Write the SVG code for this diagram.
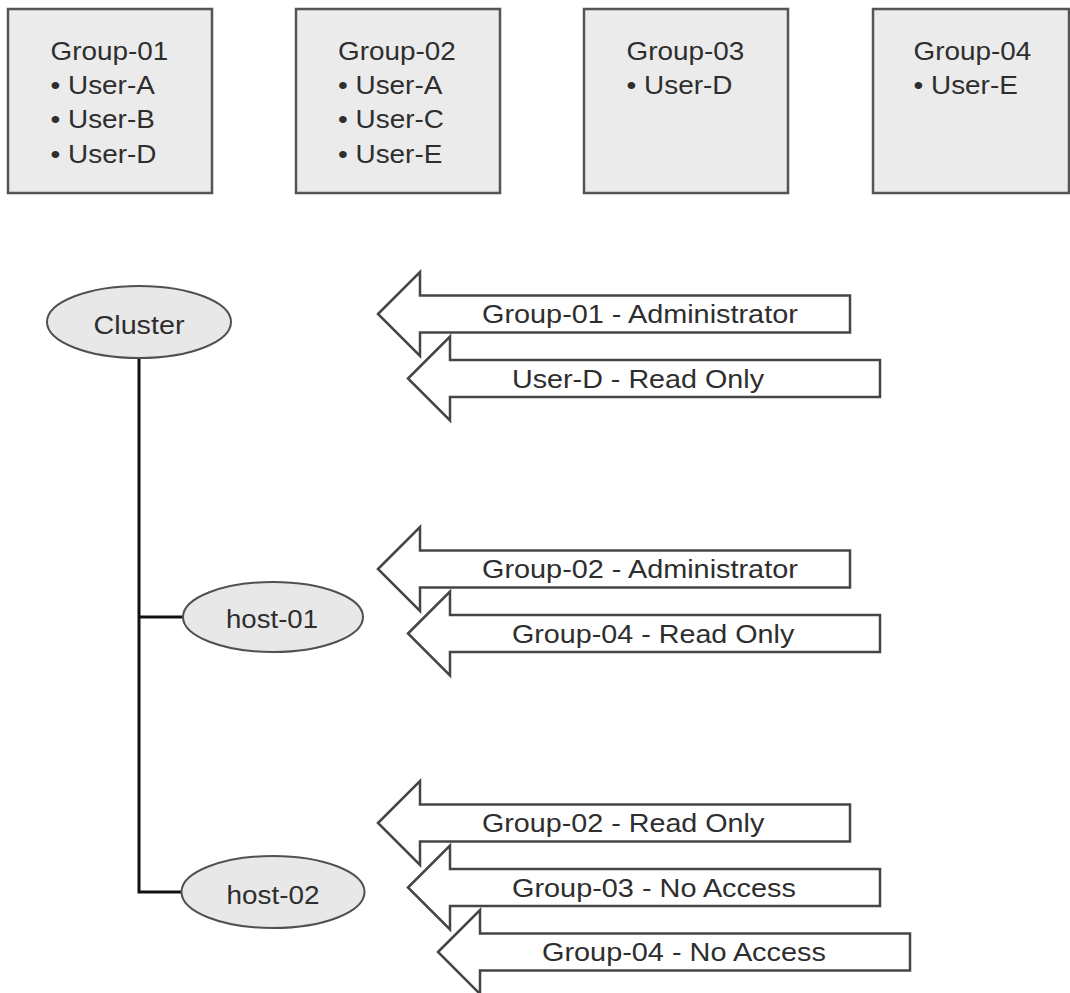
<svg xmlns="http://www.w3.org/2000/svg" width="1070" height="993" viewBox="0 0 1070 993">
  <style>
    text { font-family: "Liberation Sans", Arial, Helvetica, sans-serif; font-size: 26px; fill: #2e2e2e; }
    .box { fill: #ebebeb; stroke: #555555; stroke-width: 2.5; }
    .node { fill: #e8e8e8; stroke: #505050; stroke-width: 2; }
    .arrow { fill: #ffffff; stroke: #454545; stroke-width: 2.5; stroke-linejoin: miter; }
    .tree { fill: none; stroke: #111111; stroke-width: 3; }
    .mid { text-anchor: middle; }
  </style>
  <defs>
    <!-- block arrow pointing left, origin at its tip -->
    <path id="blockArrow" class="arrow" d="M0 0 L42 -42 V-18.5 H472 V18.5 H42 V42 Z"/>
  </defs>

  <rect width="1070" height="993" fill="#ffffff"/>

  <!-- group membership boxes -->
  <g id="group-01">
    <rect class="box" x="8" y="9" width="204" height="184"/>
    <text x="50.5" y="60" textLength="117.8" lengthAdjust="spacingAndGlyphs">Group-01</text>
    <text x="50.5" y="93.5" textLength="104.3" lengthAdjust="spacingAndGlyphs">• User-A</text>
    <text x="50.5" y="128" textLength="104.3" lengthAdjust="spacingAndGlyphs">• User-B</text>
    <text x="50.5" y="163" textLength="105.9" lengthAdjust="spacingAndGlyphs">• User-D</text>
  </g>
  <g id="group-02">
    <rect class="box" x="296" y="9" width="204" height="184"/>
    <text x="338" y="60" textLength="117.8" lengthAdjust="spacingAndGlyphs">Group-02</text>
    <text x="338" y="93.5" textLength="104.3" lengthAdjust="spacingAndGlyphs">• User-A</text>
    <text x="338" y="128" textLength="105.9" lengthAdjust="spacingAndGlyphs">• User-C</text>
    <text x="338" y="163" textLength="104.3" lengthAdjust="spacingAndGlyphs">• User-E</text>
  </g>
  <g id="group-03">
    <rect class="box" x="584" y="9" width="204" height="184"/>
    <text x="626.5" y="60" textLength="117.8" lengthAdjust="spacingAndGlyphs">Group-03</text>
    <text x="626.5" y="93.5" textLength="105.9" lengthAdjust="spacingAndGlyphs">• User-D</text>
  </g>
  <g id="group-04">
    <rect class="box" x="873" y="9" width="196" height="184"/>
    <text x="913.5" y="60" textLength="117.8" lengthAdjust="spacingAndGlyphs">Group-04</text>
    <text x="913.5" y="93.5" textLength="104.3" lengthAdjust="spacingAndGlyphs">• User-E</text>
  </g>

  <!-- inventory tree lines -->
  <g id="connectors">
    <path class="tree" d="M139 358 V892 H182"/>
    <path class="tree" d="M139 617 H183"/>
  </g>

  <!-- inventory objects -->
  <g id="cluster">
    <ellipse class="node" cx="139" cy="322" rx="92" ry="36"/>
    <text class="mid" x="139" y="334" textLength="91" lengthAdjust="spacingAndGlyphs">Cluster</text>
  </g>
  <g id="host-01">
    <ellipse class="node" cx="273" cy="617" rx="90" ry="35"/>
    <text class="mid" x="272" y="628" textLength="92" lengthAdjust="spacingAndGlyphs">host-01</text>
  </g>
  <g id="host-02">
    <ellipse class="node" cx="273" cy="892" rx="91.5" ry="36"/>
    <text class="mid" x="273" y="904" textLength="93" lengthAdjust="spacingAndGlyphs">host-02</text>
  </g>

  <!-- permissions assigned on the cluster -->
  <g id="perm-cluster-group-01">
    <use href="#blockArrow" x="378" y="314"/>
    <text x="482" y="323" textLength="315.8" lengthAdjust="spacingAndGlyphs">Group-01 - Administrator</text>
  </g>
  <g id="perm-cluster-user-d">
    <use href="#blockArrow" x="408" y="378.5"/>
    <text x="512" y="387.5" textLength="252" lengthAdjust="spacingAndGlyphs">User-D - Read Only</text>
  </g>

  <!-- permissions assigned on host-01 -->
  <g id="perm-host01-group-02">
    <use href="#blockArrow" x="378" y="569"/>
    <text x="482" y="578" textLength="315.8" lengthAdjust="spacingAndGlyphs">Group-02 - Administrator</text>
  </g>
  <g id="perm-host01-group-04">
    <use href="#blockArrow" x="408" y="633.5"/>
    <text x="512" y="642.5" textLength="282.3" lengthAdjust="spacingAndGlyphs">Group-04 - Read Only</text>
  </g>

  <!-- permissions assigned on host-02 -->
  <g id="perm-host02-group-02">
    <use href="#blockArrow" x="378" y="823"/>
    <text x="482" y="832" textLength="282.3" lengthAdjust="spacingAndGlyphs">Group-02 - Read Only</text>
  </g>
  <g id="perm-host02-group-03">
    <use href="#blockArrow" x="408" y="887.5"/>
    <text x="512" y="896.5" textLength="283.9" lengthAdjust="spacingAndGlyphs">Group-03 - No Access</text>
  </g>
  <g id="perm-host02-group-04">
    <use href="#blockArrow" x="438" y="952"/>
    <text x="542" y="961" textLength="283.9" lengthAdjust="spacingAndGlyphs">Group-04 - No Access</text>
  </g>
</svg>
